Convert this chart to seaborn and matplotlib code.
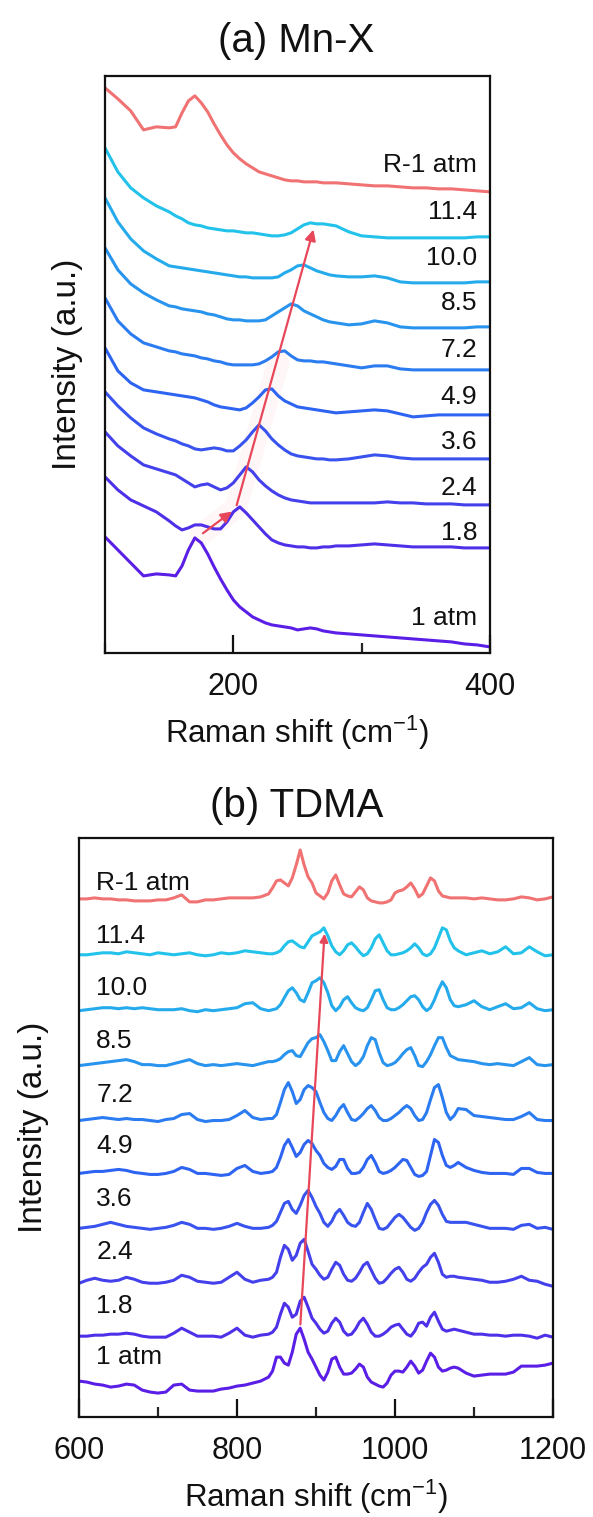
import pandas as pd
import seaborn as sns
import matplotlib.pyplot as plt
from matplotlib.ticker import MultipleLocator

# ---------------- (a) Mn-X, stacked spectra ----------------
mnx_shift = [100, 110, 120, 130, 140, 150, 155, 160, 165, 170, 175, 180, 185, 190, 195,
             200, 205, 210, 215, 220, 225, 230, 235, 240, 245, 250, 255, 260, 265, 270,
             275, 280, 290, 300, 310, 320, 330, 340, 350, 360, 370, 380, 390, 400]

mnx_1atm = [116, 103, 90, 77, 79, 78, 77, 87, 103, 115, 110, 99, 86, 74, 63,
            53, 46, 41, 36, 33, 30, 28, 27, 26, 25, 23, 24, 25, 24, 22,
            21, 20, 19, 18, 17, 16, 15, 14, 13, 12, 11, 9, 8, 6]
mnx_1p8 = [176, 163, 153, 147, 141, 132, 127, 123, 125, 128, 128, 126, 124, 124, 131,
           141, 146, 140, 133, 126, 119, 113, 110, 108, 107, 106, 106, 105, 105, 106,
           106, 107, 107, 108, 109, 108, 107, 106, 106, 106, 106, 105, 105, 105]
mnx_2p4 = [221, 207, 197, 188, 184, 180, 178, 174, 170, 166, 168, 169, 166, 163, 165,
           170, 178, 186, 181, 173, 167, 162, 158, 155, 153, 152, 151, 150, 150, 150,
           150, 150, 150, 150, 150, 151, 150, 150, 149, 149, 149, 148, 148, 148]
mnx_3p6 = [261, 247, 235, 225, 219, 214, 212, 209, 207, 204, 203, 204, 205, 204, 202,
           202, 207, 213, 221, 228, 222, 214, 208, 203, 199, 197, 196, 195, 194, 194,
           193, 193, 194, 196, 198, 197, 195, 194, 194, 194, 194, 194, 194, 194]
mnx_4p9 = [305, 282, 270, 263, 261, 259, 258, 257, 256, 255, 253, 251, 248, 246, 245,
           244, 243, 245, 250, 256, 263, 264, 257, 252, 249, 246, 245, 244, 243, 242,
           241, 240, 241, 242, 243, 242, 239, 236, 237, 238, 238, 238, 238, 238]
mnx_7p2 = [355, 332, 319, 310, 306, 302, 301, 299, 298, 297, 295, 294, 292, 291, 289,
           288, 288, 288, 288, 289, 292, 296, 301, 302, 297, 293, 292, 292, 291, 291,
           290, 289, 287, 285, 287, 287, 284, 283, 283, 283, 283, 283, 283, 283]
mnx_8p5 = [405, 383, 369, 360, 353, 347, 346, 344, 343, 342, 341, 339, 338, 336, 334,
           333, 333, 332, 332, 332, 333, 337, 341, 345, 349, 347, 342, 339, 336, 333,
           331, 330, 328, 329, 332, 330, 326, 325, 325, 325, 325, 325, 326, 326]
mnx_10p0 = [455, 431, 414, 402, 394, 387, 386, 385, 384, 383, 382, 381, 380, 379, 378,
            377, 376, 376, 375, 375, 375, 375, 376, 380, 383, 387, 388, 385, 382, 380,
            378, 377, 376, 376, 377, 375, 371, 370, 370, 370, 370, 370, 371, 371]
mnx_11p4 = [505, 481, 465, 455, 447, 441, 437, 434, 430, 428, 427, 425, 424, 423, 422,
            422, 421, 420, 420, 419, 418, 417, 417, 418, 420, 424, 428, 430, 429, 429,
            428, 427, 421, 417, 416, 415, 415, 415, 415, 415, 415, 415, 416, 416]
mnx_r1 = [565, 554, 542, 523, 526, 525, 526, 540, 552, 557, 550, 541, 529, 518, 508,
          500, 494, 489, 485, 481, 479, 477, 475, 473, 472, 472, 471, 471, 471, 470,
          470, 470, 469, 468, 467, 467, 466, 465, 465, 464, 464, 463, 462, 461]

# ---------------- (b) TDMA ----------------
tdma_shift = list(range(600, 850, 10)) + list(range(845, 1080, 5)) + list(range(1080, 1210, 10))

tdma_1atm = [36, 35, 33, 32, 30, 31, 33, 32, 27, 25, 24, 25, 32, 33, 27, 26, 26, 26, 28, 29, 31, 32, 34, 36, 40,
             46, 60, 60, 54, 52, 65, 83, 89, 78, 65, 58, 50, 42, 37, 45, 58, 60, 50, 43, 43, 44, 48, 53, 50,
             40, 35, 33, 31, 30, 34, 42, 46, 46, 45, 50, 56, 51, 44, 47, 56, 64, 60, 50, 46, 47, 49, 50,
             49, 44, 41, 42, 43, 43, 43, 45, 51, 51, 51, 52, 54]
tdma_1p8 = [81, 81, 82, 82, 83, 83, 84, 83, 81, 80, 80, 80, 84, 89, 85, 81, 81, 81, 80, 84, 89, 82, 80, 82, 83,
            85, 90, 103, 114, 110, 100, 103, 116, 120, 110, 99, 94, 88, 84, 86, 94, 99, 95, 86, 82, 83, 88, 95,
            99, 93, 85, 81, 81, 83, 86, 90, 92, 93, 88, 83, 81, 86, 94, 95, 91, 100, 105, 96, 88, 86, 87, 88,
            87, 85, 83, 83, 82, 82, 81, 82, 82, 81, 79, 82, 80]
tdma_2p4 = [134, 137, 139, 137, 136, 137, 140, 138, 135, 134, 134, 135, 137, 142, 140, 136, 135, 134, 135, 140,
            145, 138, 135, 137, 138,
            140, 145, 160, 172, 168, 157, 162, 174, 178, 166, 153, 148, 142, 138, 140, 148, 155, 152, 143, 137,
            136, 139, 145, 152, 155, 147, 139, 134, 135, 139, 144, 148, 150, 145, 138, 136, 139, 145, 150, 153,
            160, 164, 155, 143, 140, 141, 141,
            140, 139, 138, 137, 135, 135, 136, 138, 141, 137, 136, 133, 131]
tdma_3p6 = [189, 190, 191, 193, 195, 193, 191, 190, 189, 188, 189, 190, 192, 195, 193, 189, 189, 188, 189, 191,
            194, 191, 189, 189, 190,
            192, 196, 205, 214, 216, 208, 204, 212, 222, 227, 220, 211, 204, 195, 191, 196, 204, 208, 202, 195,
            192, 191, 195, 205, 214, 208, 198, 189, 188, 190, 195, 200, 203, 200, 195, 190, 187, 189, 195, 205,
            213, 217, 212, 203, 196, 195, 195,
            195, 195, 193, 191, 189, 189, 189, 188, 192, 193, 189, 190, 188]
tdma_4p9 = [244, 245, 246, 246, 247, 248, 247, 245, 244, 243, 243, 244, 246, 250, 248, 244, 244, 243, 242, 243,
            249, 252, 246, 244, 245,
            246, 250, 260, 272, 278, 270, 261, 265, 273, 277, 274, 267, 262, 254, 250, 248, 251, 258, 258, 249,
            244, 244, 245, 250, 258, 262, 255, 246, 244, 245, 247, 250, 254, 258, 257, 250, 243, 241, 242, 246,
            262, 278, 275, 262, 252, 250, 252,
            255, 250, 247, 245, 244, 244, 244, 243, 249, 249, 245, 244, 244]
tdma_7p2 = [297, 298, 299, 300, 299, 298, 299, 298, 298, 297, 296, 298, 299, 303, 304, 298, 296, 297, 297, 298,
            302, 307, 300, 298, 299,
            299, 303, 315, 328, 335, 326, 314, 318, 328, 332, 330, 326, 315, 305, 299, 297, 302, 309, 313, 305,
            298, 297, 300, 304, 309, 312, 307, 300, 297, 297, 299, 302, 305, 309, 312, 309, 302, 297, 298, 305,
            318, 330, 333, 320, 305, 298, 302,
            309, 308, 302, 301, 300, 299, 298, 298, 301, 305, 298, 297, 297]
tdma_8p5 = [352, 353, 354, 355, 356, 357, 358, 356, 353, 353, 352, 352, 354, 356, 358, 354, 352, 353, 352, 353,
            354, 353, 352, 354, 356,
            356, 357, 359, 363, 366, 367, 362, 361, 368, 375, 379, 380, 383, 376, 367, 357, 357, 366, 372, 364,
            356, 352, 355, 361, 372, 380, 378, 365, 355, 352, 353, 355, 359, 364, 368, 370, 362, 352, 351, 356,
            363, 372, 380, 380, 370, 362, 360,
            358, 357, 356, 354, 353, 354, 353, 352, 356, 360, 353, 352, 353]
tdma_10p0 = [407, 408, 409, 410, 410, 409, 410, 409, 410, 409, 408, 408, 408, 409, 407, 406, 408, 407, 408, 409,
             410, 414, 415, 409, 407,
             408, 409, 413, 420, 427, 430, 425, 418, 416, 425, 435, 437, 440, 435, 425, 412, 407, 411, 418, 421,
             415, 410, 408, 407, 410, 418, 427, 428, 418, 410, 408, 408, 410, 413, 417, 421, 422, 418, 411, 407,
             410, 418, 428, 436, 430, 418, 412,
             411, 413, 417, 411, 408, 411, 414, 409, 410, 415, 409, 407, 408]
tdma_11p4 = [463, 463, 464, 465, 465, 464, 466, 465, 464, 463, 465, 464, 463, 464, 465, 463, 462, 463, 465, 464,
             465, 467, 466, 465, 464,
             464, 465, 467, 472, 476, 477, 474, 471, 470, 476, 482, 484, 486, 490, 482, 472, 466, 463, 467, 473,
             475, 471, 466, 462, 464, 470, 479, 483, 475, 467, 463, 463, 464, 465, 467, 470, 474, 470, 464, 462,
             464, 470, 480, 490, 488, 477, 470,
             467, 463, 465, 467, 464, 466, 471, 464, 465, 471, 466, 462, 463]
tdma_r1 = [519, 519, 520, 519, 519, 518, 518, 517, 517, 517, 518, 518, 520, 523, 516, 516, 518, 518, 519, 520,
           520, 520, 520, 521, 524,
           530, 537, 538, 535, 532, 540, 553, 568, 553, 541, 535, 525, 522, 519, 525, 537, 543, 533, 524, 522,
           521, 526, 531, 528, 520, 517, 516, 515, 515, 516, 518, 525, 527, 528, 531, 535, 529, 521, 524, 532,
           540, 537, 527, 522, 521, 520, 520,
           520, 520, 519, 520, 519, 518, 518, 519, 521, 520, 518, 519, 521]

labels = ["1 atm", "1.8", "2.4", "3.6", "4.9", "7.2", "8.5", "10.0", "11.4", "R-1 atm"]
mnx_series = [mnx_1atm, mnx_1p8, mnx_2p4, mnx_3p6, mnx_4p9, mnx_7p2, mnx_8p5, mnx_10p0, mnx_11p4, mnx_r1]
tdma_series = [tdma_1atm, tdma_1p8, tdma_2p4, tdma_3p6, tdma_4p9, tdma_7p2, tdma_8p5, tdma_10p0, tdma_11p4, tdma_r1]

# label anchor heights (layout only)
mnx_label_y = [35, 120, 165, 211, 256, 303, 350, 395, 441, 488]
tdma_label_y = [60, 111, 165, 218, 271, 323, 377, 430, 482, 535]

sns.set_theme(style="white")
plt.rcParams["font.family"] = ["Liberation Sans", "DejaVu Sans"]
plt.rcParams["mathtext.fontset"] = "custom"
plt.rcParams["mathtext.rm"] = "Liberation Sans"

blues = sns.blend_palette(["#5a1ee6", "#2e64f2", "#22c2ea"], 9)
palette = dict(zip(labels, list(blues) + ["#f07272"]))
arrow_red = "#e8475a"
ink = "#111111"


def to_long(shift, series):
    frames = [pd.DataFrame({"shift": shift, "intensity": s, "sample": lab})
              for lab, s in zip(labels, series)]
    return pd.concat(frames, ignore_index=True)


def style_axes(ax):
    for sp in ax.spines.values():
        sp.set_visible(True)
        sp.set_color(ink)
        sp.set_linewidth(1.6)
    ax.xaxis.set_major_locator(MultipleLocator(200))
    ax.xaxis.set_minor_locator(MultipleLocator(100))
    ax.tick_params(axis="x", which="major", direction="in", length=13, width=1.6,
                   labelsize=22, pad=14, colors=ink, bottom=True)
    ax.tick_params(axis="x", which="minor", direction="in", length=7, width=1.6, bottom=True)
    ax.set_yticks([])
    ax.set_xlabel("Raman shift (cm$^{-1}$)", fontsize=22.5, color=ink)
    ax.set_ylabel("Intensity (a.u.)", fontsize=24, color=ink)
    ax.xaxis.label.set_va("center")
    ax.yaxis.label.set_va("center")


fig = plt.figure(figsize=(5.93, 15.17), dpi=100)
ax1 = fig.add_axes([0.1771, 0.5696, 0.6492, 0.3804])
ax2 = fig.add_axes([0.1332, 0.0659, 0.7993, 0.3817])

# (a)
sns.lineplot(data=to_long(mnx_shift, mnx_series), x="shift", y="intensity", hue="sample",
             hue_order=labels, palette=palette, linewidth=2.2, legend=False, ax=ax1)
ax1.set_xlim(100, 400)
ax1.set_ylim(0, 577)
style_axes(ax1)
for lab, yy in zip(labels, mnx_label_y):
    ax1.text(390, yy, lab, ha="right", va="center", fontsize=19, color=ink)
# soft glow under the arrows that follow the shifting peak
ax1.plot([174.6, 202, 235], [118, 145, 290], color="#f7b8c0", lw=16, alpha=0.12,
         solid_capstyle="round", zorder=1)
ax1.annotate("", xy=(200.6, 143), xytext=(174.6, 118),
             arrowprops=dict(arrowstyle="-|>", color=arrow_red, lw=1.6, mutation_scale=16))
ax1.annotate("", xy=(263, 426), xytext=(202, 145),
             arrowprops=dict(arrowstyle="-|>", color=arrow_red, lw=1.6, mutation_scale=16))
ax1.xaxis.set_label_coords(0.5, -0.139)
ax1.yaxis.set_label_coords(-0.0987, 0.5)

# (b)
sns.lineplot(data=to_long(tdma_shift, tdma_series), x="shift", y="intensity", hue="sample",
             hue_order=labels, palette=palette, linewidth=2.2, legend=False, ax=ax2)
ax2.set_xlim(600, 1200)
ax2.set_ylim(0, 580)
style_axes(ax2)
for lab, yy in zip(labels, tdma_label_y):
    ax2.text(622, yy, lab, ha="left", va="center", fontsize=19, color=ink)
ax2.annotate("", xy=(911, 487), xytext=(880, 90),
             arrowprops=dict(arrowstyle="-|>", color=arrow_red, lw=1.6, mutation_scale=12))
ax2.xaxis.set_label_coords(0.5, -0.137)
ax2.yaxis.set_label_coords(-0.097, 0.5)

fig.text(0.5, 0.973, "(a) Mn-X", ha="center", va="center", fontsize=29, color=ink)
fig.text(0.5, 0.469, "(b) TDMA", ha="center", va="center", fontsize=29, color=ink)

fig.savefig("out.png", dpi=100, facecolor="white")
